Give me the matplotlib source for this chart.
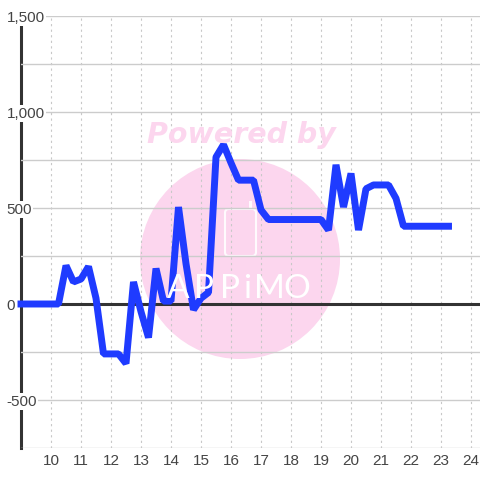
import numpy as np
import matplotlib
matplotlib.use("Agg")
import matplotlib.pyplot as plt
from matplotlib.patches import Circle, FancyBboxPatch, Rectangle

plt.rcParams['font.family'] = ['Liberation Sans', 'DejaVu Sans']

# quarter hour samples
hours = [9, 9.25, 9.5, 9.75, 10, 10.25, 10.5, 10.75, 11, 11.25, 11.5, 11.75,
         12, 12.25, 12.5, 12.75, 13, 13.25, 13.5, 13.75, 14, 14.25, 14.5, 14.75,
         15, 15.25, 15.5, 15.75, 16, 16.25, 16.5, 16.75, 17, 17.25, 17.5, 17.75,
         18, 18.25, 18.5, 18.75, 19, 19.25, 19.5, 19.75, 20, 20.25, 20.5, 20.75,
         21, 21.25, 21.5, 21.75, 22, 22.25, 22.5, 22.75, 23, 23.25]
values = [0, 0, 0, 0, 0, 0, 200, 115, 130, 195, 30, -260,
          -260, -260, -310, 115, -40, -175, 185, 15, 15, 505, 210, -30,
          30, 60, 765, 830, 735, 645, 645, 645, 490, 440, 440, 440,
          440, 440, 440, 440, 440, 385, 725, 505, 680, 385, 600, 620,
          620, 620, 550, 405, 405, 405, 405, 405, 405, 405]
x_ticks = list(range(10, 25))
y_ticks = [-750, -500, -250, 0, 250, 500, 750, 1000, 1250, 1500]
y_labels = ['', '-500', '', '0', '', '500', '', '1,000', '', '1,500']
logo_letters = ['A', 'P', 'P', 'i', 'M', 'O']
logo_x = [178, 204, 230, 247, 269, 297]

fig = plt.figure(figsize=(4.8, 4.8), dpi=100, facecolor='white')
ax = fig.add_axes([21 / 480, 32 / 480, 459 / 480, 432 / 480])
ax.patch.set_alpha(0)

# watermark sits under the transparent axes, in pixel coords
def px(y):
    return 480 - y

pink = '#fcd6ee'
fig.patches.append(Circle((240, px(259)), 100, color=pink, lw=0, transform=None, zorder=-2))
fig.patches.append(FancyBboxPatch((225, px(256)), 31, 47, boxstyle='round,pad=0,rounding_size=4',
                                  fc='none', ec='white', lw=1.5, alpha=0.9, transform=None, zorder=-1))
fig.patches.append(Rectangle((249, px(209)), 3, 8, color='white', alpha=0.9, lw=0, transform=None, zorder=-1))
fig.text(241.5 / 480, px(135) / 480, 'Powered by', color=pink, fontsize=20.5, fontweight='bold',
         style='italic', family='DejaVu Sans', ha='center', va='center', zorder=1)
for ch, lx in zip(logo_letters, logo_x):
    fig.text(lx / 480, px(289) / 480, ch, color='white', fontsize=24, family='Lato',
             ha='center', va='center', zorder=1)

ax.plot(hours, values, color='#1f3bff', lw=5, solid_joinstyle='bevel',
        solid_capstyle='projecting', clip_on=False, zorder=3)
ax.axhline(0, color='#333333', lw=2.2, zorder=1.6)

ax.set_xlim(9, 24.3)
ax.set_ylim(-750, 1500)
ax.set_xticks(x_ticks)
ax.set_yticks(y_ticks)
ax.set_yticklabels(y_labels)

ax.grid(True, axis='y', color='#cccccc', lw=1)
ax.grid(True, axis='x', color='#c8c8c8', lw=0.8, linestyle=(0, (2, 3)))
ax.tick_params(axis='x', length=0, pad=4.5, labelsize=11, labelcolor='#444444')
ax.tick_params(axis='y', length=0, pad=10.5, labelsize=11, labelcolor='#444444')
for lab in ax.get_yticklabels():
    lab.set_ha('left')
    lab.set_bbox(dict(fc='white', ec='none', pad=0.8))
for lab in ax.get_yticklabels()[::2]:
    lab.set_bbox(None)

for name in ['top', 'right', 'bottom']:
    ax.spines[name].set_visible(False)
ax.spines['left'].set_color('#333333')
ax.spines['left'].set_linewidth(2.2)
ax.spines['left'].set_zorder(1)

fig.savefig('out.png', dpi=100)
